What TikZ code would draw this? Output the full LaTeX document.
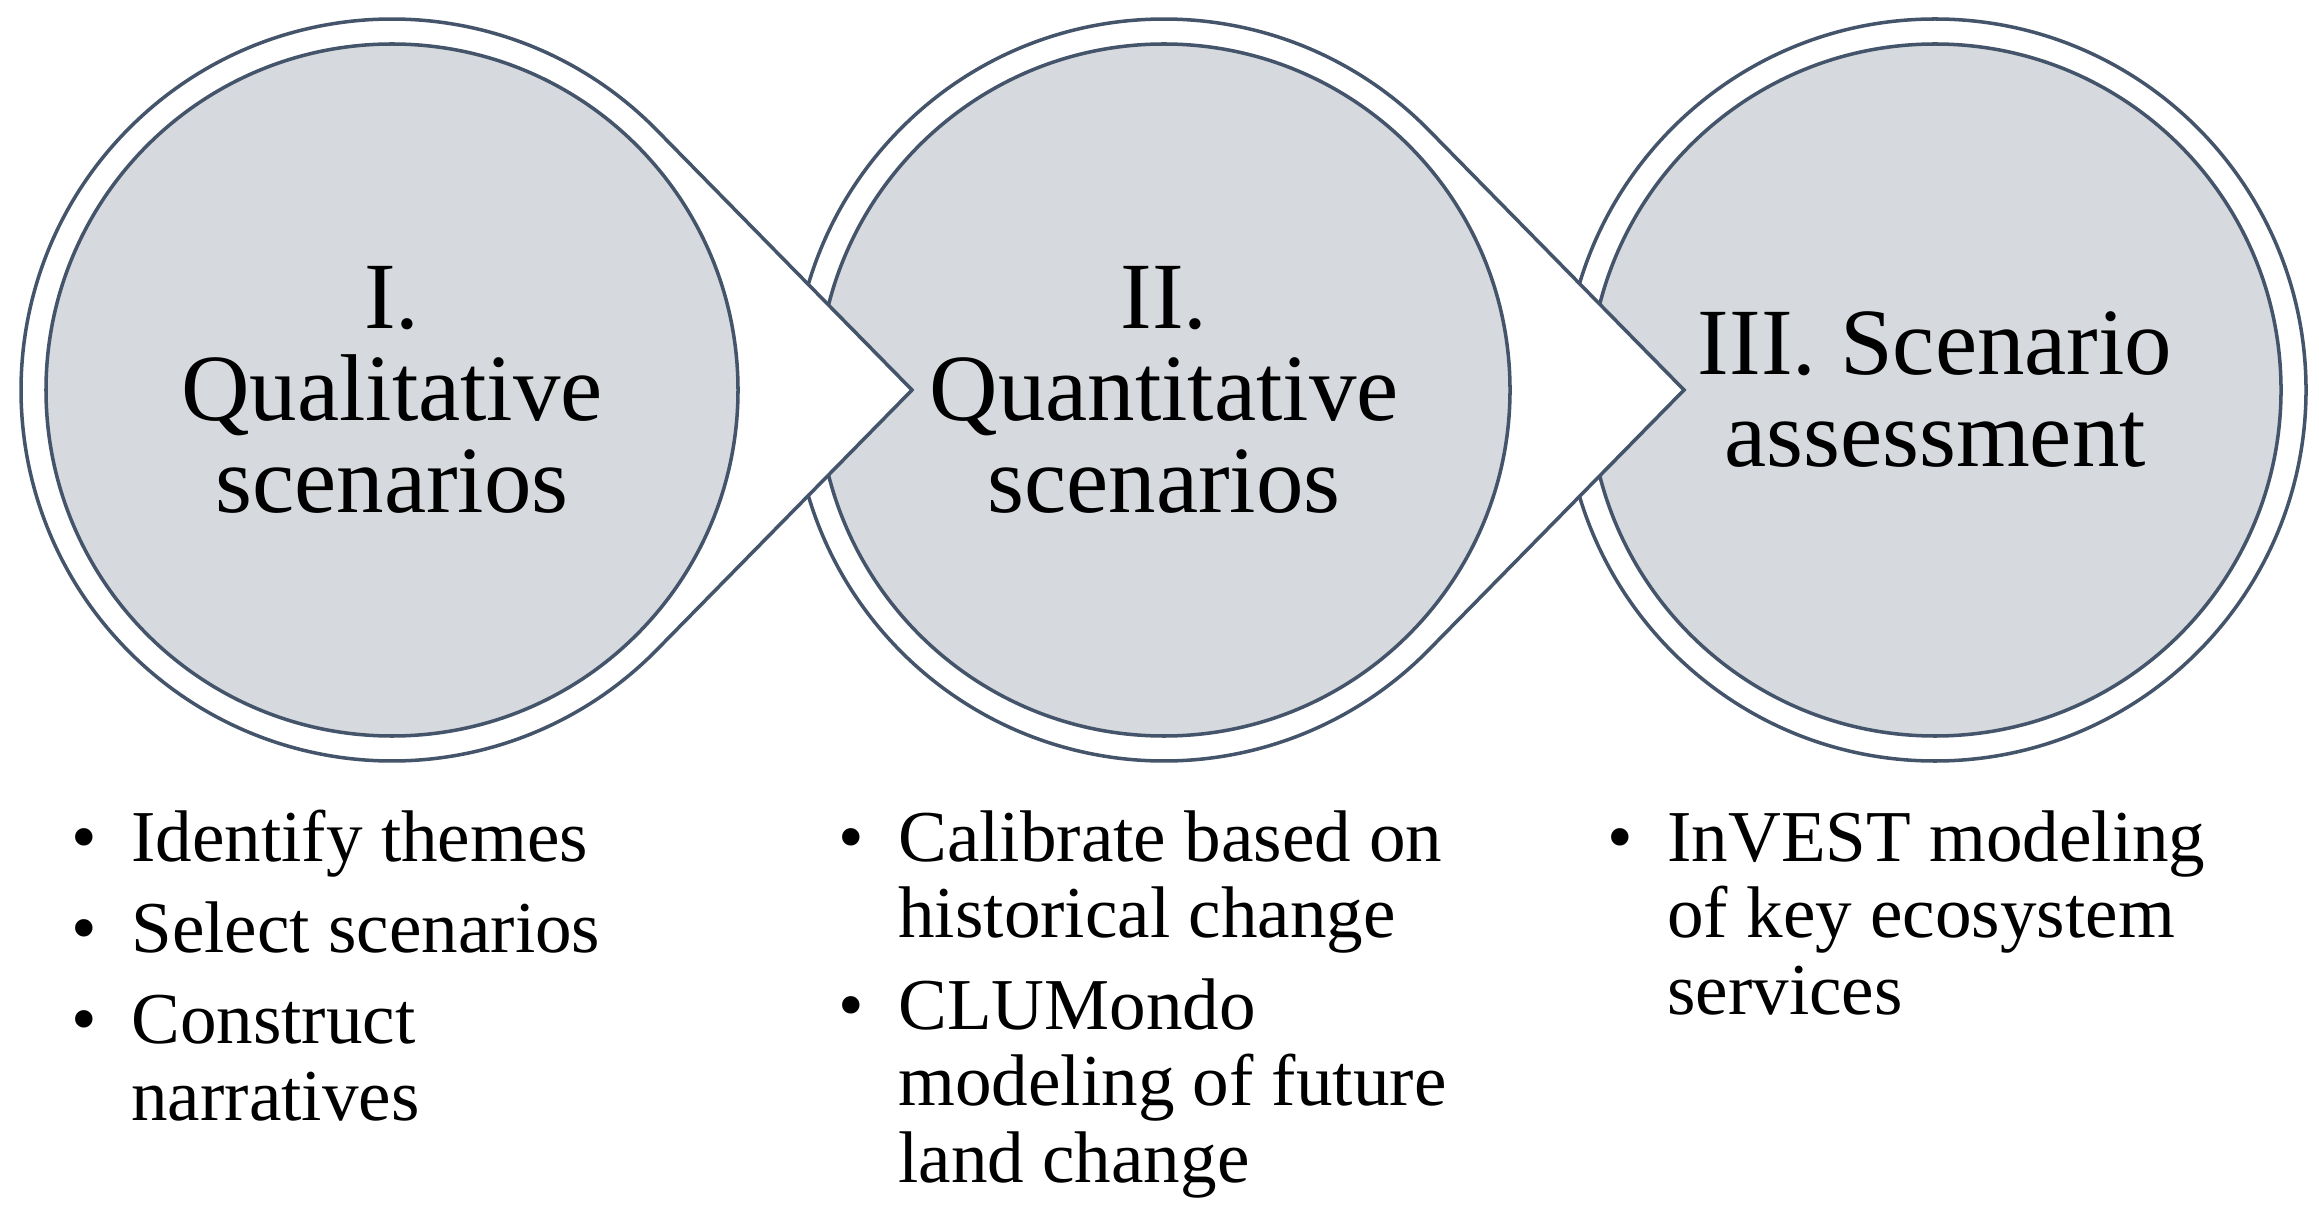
\documentclass[tikz,border=0pt]{standalone}
\usepackage{fontspec}
\usepackage{xcolor}
\setmainfont{Liberation Serif}
\usetikzlibrary{calc}

\definecolor{slate}{HTML}{44546A}
\definecolor{stagegray}{HTML}{D6D9DD}
\newcommand{\stagefont}{\fontsize{27}{26.2}\selectfont}
\newcommand{\listfont}{\fontsize{20.8}{21.9}\selectfont}

\begin{document}
\begin{tikzpicture}[stagenode/.style={circle, draw=slate, fill=stagegray, line width=1pt, minimum size=6.92cm, inner sep=0pt, align=center, font=\stagefont},
                    ringshape/.style={draw=slate, fill=white, line width=1pt},
                    listnode/.style={anchor=base west, inner sep=0pt, font=\listfont}]
            \useasboundingbox (0,0) rectangle (23.19,12.09);

            \coordinate (c1) at (3.92,8.19);
            \coordinate (c2) at (11.64,8.19);
            \coordinate (c3) at (19.35,8.19);
            \coordinate (t1) at (9.12,8.19);
            \coordinate (t2) at (16.84,8.19);

            % last stage first, so each chevron lies over the next circle
            \draw[ringshape] (c3) circle[radius=3.71];
            \node[stagenode] (s3) at (c3) {III. Scenario\\assessment};

            \draw[ringshape] (t2) -- ($(c2)+(44.5:3.71)$) arc[start angle=44.5, end angle=315.5, radius=3.71] -- cycle;
            \node[stagenode] (s2) at (c2) {II.\\Quantitative\\scenarios};

            \draw[ringshape] (t1) -- ($(c1)+(44.5:3.71)$) arc[start angle=44.5, end angle=315.5, radius=3.71] -- cycle;
            \node[stagenode] (s1) at (c1) {I.\\Qualitative\\scenarios};

            % bullet lists
            \node[listnode] (l1) at (0.71,3.48) {\begin{tabular}[t]{@{}l@{\hspace{9.7pt}}l@{}}
                \textbullet & Identify themes\\[4pt]
                \textbullet & Select scenarios\\[4pt]
                \textbullet & Construct\\
                            & narratives
            \end{tabular}};
            \node[listnode] (l2) at (8.38,3.48) {\begin{tabular}[t]{@{}l@{\hspace{9.7pt}}l@{}}
                \textbullet & Calibrate based on\\
                            & historical change\\[4pt]
                \textbullet & CLUMondo\\
                            & modeling of future\\
                            & land change
            \end{tabular}};
            \node[listnode] (l3) at (16.07,3.48) {\begin{tabular}[t]{@{}l@{\hspace{9.7pt}}l@{}}
                \textbullet & InVEST modeling\\
                            & of key ecosystem\\
                            & services
            \end{tabular}};

        \end{tikzpicture}
\end{document}
